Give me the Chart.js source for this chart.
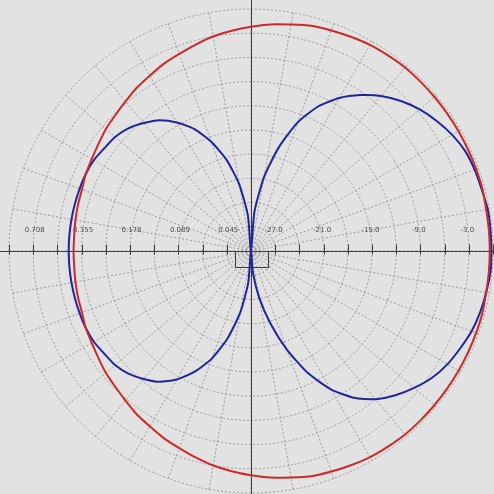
<!DOCTYPE html>
<html>
<head>
<meta charset="utf-8">
<script src="https://cdn.jsdelivr.net/npm/chart.js@4"></script>
<style>
  html, body { margin: 0; padding: 0; background: #e2e2e2; }
  #wrap { width: 494px; height: 494px; }
</style>
</head>
<body>
<div id="wrap"><canvas id="polar-chart" width="494" height="494"></canvas></div>
<script>
// angle in degrees, clockwise from the top
const angles = [0, 5, 10, 15, 20, 25, 30, 35, 40, 45, 50, 55, 60, 65, 70, 75, 80, 85,
  90, 95, 100, 105, 110, 115, 120, 125, 130, 135, 140, 145, 150, 155, 160, 165, 170, 175,
  180, 185, 190, 195, 200, 205, 210, 215, 220, 225, 230, 235, 240, 245, 250, 255, 260, 265,
  270, 275, 280, 285, 290, 295, 300, 305, 310, 315, 320, 325, 330, 335, 340, 345, 350, 355];

// red pattern (dB)
const redDb = [-2.2, -1.8, -1.5, -1.1, -0.9, -0.7, -0.5, -0.4, -0.3, -0.3, -0.3, -0.3, -0.3, -0.3, -0.3, -0.3, -0.4, -0.4,
  -0.4, -0.4, -0.4, -0.3, -0.3, -0.3, -0.3, -0.3, -0.3, -0.3, -0.3, -0.4, -0.5, -0.7, -0.9, -1.1, -1.5, -1.8,
  -2.2, -2.6, -3.0, -3.5, -4.0, -4.4, -4.9, -5.3, -5.8, -6.2, -6.5, -6.9, -7.2, -7.4, -7.7, -7.8, -7.9, -8.0,
  -8.0, -8.0, -7.9, -7.8, -7.7, -7.4, -7.2, -6.9, -6.5, -6.2, -5.8, -5.3, -4.9, -4.4, -4.0, -3.5, -3.0, -2.6];

// blue figure-eight pattern (dB)
const blueDb = [-30, -25.1, -20.7, -16.7, -13.0, -10.2, -8.1, -6.4, -4.9, -3.7, -2.7, -1.9, -1.2, -0.7, -0.5, -0.4, -0.2, -0.2,
  -0.2, -0.2, -0.4, -0.6, -0.9, -1.4, -1.9, -2.6, -3.6, -4.7, -6.0, -7.8, -10.2, -13.3, -17.0, -20.7, -24.1, -27.3,
  -30, -26.0, -22.2, -18.8, -15.8, -13.5, -11.6, -10.2, -9.3, -8.5, -8.0, -7.8, -7.5, -7.4, -7.4, -7.4, -7.4, -7.4,
  -7.4, -7.4, -7.4, -7.4, -7.4, -7.4, -7.5, -7.8, -8.0, -8.5, -9.3, -10.2, -11.6, -13.3, -15.6, -18.3, -21.6, -25.6];

// labels along the horizontal axis
const rightTickValues = [-27, -21, -15, -9, -3];
const rightTickLabels = ['-27.0', '-21.0', '-15.0', '-9.0', '-3.0'];
const leftTickValues = [-3, -9, -15, -21, -27];
const leftTickLabels = ['0.708', '0.355', '0.178', '0.089', '0.045'];

// axis lines, tick marks and labels drawn under the curves
const axesPlugin = {
  id: 'axes',
  beforeDatasetsDraw(chart) {
    const s = chart.scales.r;
    const ctx = chart.ctx;
    const cx = Math.round(s.xCenter) + 0.5;
    const cy = Math.round(s.yCenter) + 0.5;
    ctx.save();
    ctx.strokeStyle = '#3c3c3c';
    ctx.lineWidth = 1;
    ctx.beginPath();
    ctx.moveTo(0, cy);
    ctx.lineTo(chart.width, cy);
    ctx.moveTo(cx, 0);
    ctx.lineTo(cx, chart.height);
    for (let v = -27; v <= 0; v += 3) {
      const d = Math.round(s.getDistanceFromCenterForValue(v));
      ctx.moveTo(cx + d, cy - 7);
      ctx.lineTo(cx + d, cy + 3);
      ctx.moveTo(cx - d, cy - 7);
      ctx.lineTo(cx - d, cy + 3);
    }
    ctx.stroke();
    ctx.strokeRect(cx - 16, cy, 33, 16);

    ctx.fillStyle = '#4a4a4a';
    ctx.font = '7px "DejaVu Sans"';
    ctx.textAlign = 'center';
    ctx.textBaseline = 'middle';
    rightTickValues.forEach((v, i) => {
      const d = s.getDistanceFromCenterForValue(v);
      ctx.fillText(rightTickLabels[i], cx + d - 2, cy - 21);
    });
    leftTickValues.forEach((v, i) => {
      const d = s.getDistanceFromCenterForValue(v);
      ctx.fillText(leftTickLabels[i], cx - d + 1, cy - 21);
    });
    ctx.restore();
  }
};

const ctx = document.getElementById('polar-chart').getContext('2d');

new Chart(ctx, {
  type: 'radar',
  data: {
    labels: angles.map(a => a + '°'),
    datasets: [
      {
        label: 'red',
        data: redDb,
        borderColor: '#cc2a2a',
        borderWidth: 2,
        fill: false,
        pointRadius: 0,
        tension: 0.2,
      },
      {
        label: 'blue',
        data: blueDb,
        borderColor: '#22249a',
        borderWidth: 2,
        fill: false,
        pointRadius: 0,
        tension: 0.2,
      },
    ],
  },
  options: {
    responsive: false,
    devicePixelRatio: 1,
    animation: false,
    layout: { padding: { left: 8, right: 0, top: 9, bottom: 0 } },
    plugins: {
      legend: { display: false },
      tooltip: { enabled: false },
    },
    scales: {
      r: {
        min: -30,
        max: 0,
        ticks: { display: false, stepSize: 3 },
        pointLabels: { display: false },
        grid: {
          circular: true,
          color: '#9a9a9a',
        },
        border: { dash: [2, 2] },
        angleLines: {
          display: true,
          color: (c) => (c.index % 2 === 0 ? '#9a9a9a' : 'rgba(0,0,0,0)'),
          borderDash: [2, 2],
        },
      },
    },
  },
  plugins: [axesPlugin],
});
</script>
</body>
</html>
